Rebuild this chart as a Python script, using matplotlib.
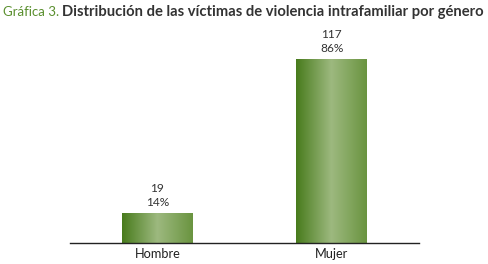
import numpy as np
import matplotlib
matplotlib.use("Agg")
import matplotlib.pyplot as plt
from matplotlib.colors import LinearSegmentedColormap

categorias = ["Hombre", "Mujer"]
victimas = [19, 117]
porcentajes = ["14%", "86%"]

plt.rcParams['font.family'] = ['Lato', 'DejaVu Sans']

fig = plt.figure(figsize=(4.88, 2.64), dpi=100)
ax = fig.add_axes([70/488, (264-242.7)/264, 349/488, 219.8/264])

x = np.arange(len(categorias))
bars = ax.bar(x, victimas, width=0.405, color='none', edgecolor='none')

# degradado horizontal de las barras
verde = LinearSegmentedColormap.from_list("verde", ["#487b1c", "#9db97f", "#6a9440"])
grad = np.linspace(0, 1, 256).reshape(1, -1)
for b in bars:
    x0, w, h = b.get_x(), b.get_width(), b.get_height()
    ax.imshow(grad, cmap=verde, aspect='auto', extent=(x0, x0 + w, 0, h), zorder=2)

for b, v, p in zip(bars, victimas, porcentajes):
    ax.annotate(f"{v}\n{p}", (b.get_x() + b.get_width()/2, b.get_height()),
                xytext=(0, 3.5), textcoords='offset points', ha='center', va='bottom',
                fontsize=8.6, color='#333333', linespacing=1.35)

ax.set_xlim(-0.5, 1.5)
ax.set_ylim(0, 140)
ax.set_xticks(x)
ax.set_xticklabels(categorias, fontsize=9.2, color='#222222')
ax.tick_params(axis='x', length=0, pad=4)
ax.set_yticks([])
for s in ['top', 'right', 'left']:
    ax.spines[s].set_visible(False)
ax.spines['bottom'].set_color('#222222')
ax.spines['bottom'].set_linewidth(1.0)

# titulo en dos partes
t1 = fig.text(3/488, 1 - 12/264, "Gráfica 3.", fontsize=9.5, color='#5a8f2e', va='center')
fig.canvas.draw()
bb = t1.get_window_extent(fig.canvas.get_renderer())
fig.text(bb.x1/488 + 3/488, 1 - 12/264,
         "Distribución de las víctimas de violencia intrafamiliar por género",
         fontsize=10.6, fontweight='bold', color='#333333', va='center')

plt.savefig("out.png", dpi=100)
